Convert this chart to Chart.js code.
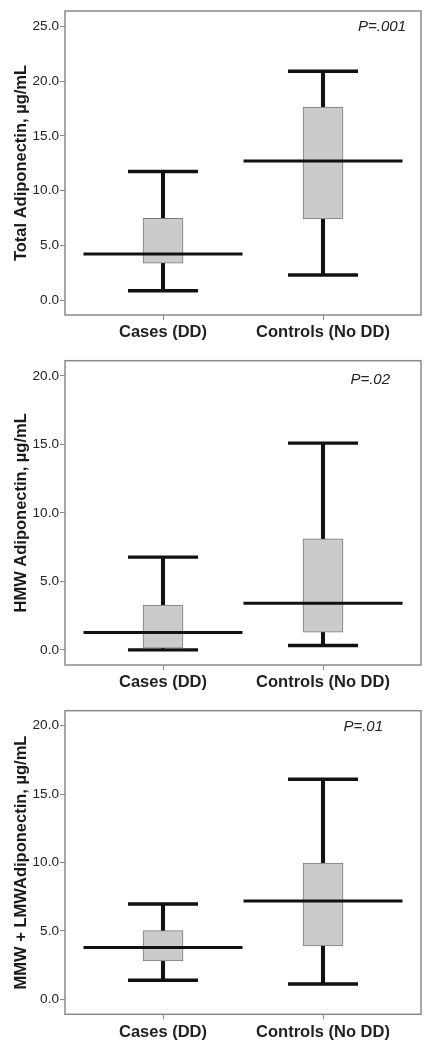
<!DOCTYPE html>
<html><head><meta charset="utf-8">
<script src="https://cdn.jsdelivr.net/npm/chart.js@4.4.0/dist/chart.umd.min.js"></script>
<style>
html,body{margin:0;padding:0;background:#fff;width:435px;height:1050px;overflow:hidden}
canvas{position:absolute;left:0;display:block}
</style></head><body>
<canvas id="c1" width="435" height="345" style="top:0px"></canvas>
<canvas id="c2" width="435" height="350" style="top:345px"></canvas>
<canvas id="c3" width="435" height="355" style="top:695px"></canvas>
<script>
// ---- data ----
const GROUPS = ['Cases (DD)', 'Controls (No DD)'];

const TOTAL_MIN = [0.85, 2.29];
const TOTAL_Q1  = [3.36, 7.41];
const TOTAL_Q3  = [7.47, 17.63];
const TOTAL_MAX = [11.74, 20.90];
const TOTAL_MID = [4.21, 12.69];
const TOTAL_TICKS = [0, 5, 10, 15, 20, 25];

const HMW_MIN = [0.00, 0.32];
const HMW_Q1  = [0.12, 1.29];
const HMW_Q3  = [3.28, 8.10];
const HMW_MAX = [6.77, 15.09];
const HMW_MID = [1.27, 3.40];
const HMW_TICKS = [0, 5, 10, 15, 20];

const MLMW_MIN = [1.39, 1.12];
const MLMW_Q1  = [2.80, 3.90];
const MLMW_Q3  = [5.02, 9.95];
const MLMW_MAX = [6.97, 16.09];
const MLMW_MID = [3.78, 7.19];
const MLMW_TICKS = [0, 5, 10, 15, 20];

const P_LABELS = ['P=.001', 'P=.02', 'P=.01'];
const Y_TITLES = ['Total Adiponectin, \u00b5g/mL', 'HMW Adiponectin, \u00b5g/mL', 'MMW + LMWAdiponectin, \u00b5g/mL'];

// ---- rendering ----
Chart.defaults.font.family = "'Liberation Sans', Arial, sans-serif";
Chart.defaults.color = '#333';

const frame = {
  id: 'frame',
  afterDraw(chart) {
    const a = chart.chartArea, ctx = chart.ctx;
    ctx.save();
    ctx.strokeStyle = '#8a8a8a';
    ctx.lineWidth = 1.5;
    ctx.strokeRect(a.left, a.top, a.right - a.left, a.bottom - a.top);
    const p = chart.options.plugins.pval;
    if (p) {
      ctx.font = "italic 15px 'Liberation Sans', Arial, sans-serif";
      ctx.fillStyle = '#222';
      ctx.textAlign = 'right';
      ctx.textBaseline = 'middle';
      ctx.fillText(p.text, a.right - p.dx, a.top + p.dy);
    }
    ctx.restore();
  }
};

function makePanel(id, mn, q1, q3, mx, mid, ticks, yMin, yMax, title, pText, pdx, pdy, padTop, xH) {
  const idx = GROUPS.map((g, i) => i);
  const pts = arr => idx.map(i => ({x: i, y: arr[i]}));
  const rng = (a, b) => idx.map(i => ({x: i, y: [a[i], b[i]]}));
  new Chart(document.getElementById(id), {
    type: 'bar',
    data: {
      datasets: [
        {type: 'line', data: pts(mid), showLine: false, pointStyle: 'line', pointRadius: 79.5,
         pointBorderWidth: 3, pointBorderColor: '#111', pointBackgroundColor: '#111'},
        {type: 'bar', data: rng(q1, q3), grouped: false, barThickness: 40, borderSkipped: false,
         backgroundColor: '#cbcbcb', borderColor: '#7a7a7a', borderWidth: 1},
        {type: 'line', data: pts(mx), showLine: false, pointStyle: 'line', pointRadius: 35,
         pointBorderWidth: 3.4, pointBorderColor: '#111'},
        {type: 'line', data: pts(mn), showLine: false, pointStyle: 'line', pointRadius: 35,
         pointBorderWidth: 3.4, pointBorderColor: '#111'},
        {type: 'bar', data: rng(mn, mx), grouped: false, barThickness: 3.4, borderSkipped: false,
         backgroundColor: '#111', borderWidth: 0}
      ]
    },
    options: {
      responsive: false, animation: false, devicePixelRatio: 1, events: [],
      layout: {autoPadding: false, padding: {left: 0, right: 14, top: padTop, bottom: 0}},
      plugins: {legend: {display: false}, tooltip: {enabled: false},
        pval: {text: pText, dx: pdx, dy: pdy}},
      scales: {
        x: {
          type: 'linear', min: -0.6125, max: 1.6125, offset: false,
          afterBuildTicks: s => { s.ticks = idx.map(v => ({value: v})); },
          ticks: {callback: v => GROUPS[v], autoSkip: false, maxRotation: 0, padding: 3, color: '#222',
                  font: {size: 16.5, weight: 'bold'}},
          grid: {drawOnChartArea: false, drawTicks: true, tickLength: 5, color: '#8a8a8a', offset: false},
          border: {display: false},
          afterFit: s => { s.height = xH; s.paddingLeft = 0; s.paddingRight = 0; }
        },
        y: {
          type: 'linear', min: yMin, max: yMax,
          afterBuildTicks: s => { s.ticks = ticks.map(v => ({value: v})); },
          ticks: {callback: v => Number(v).toFixed(1), padding: 1, color: '#222', font: {size: 13.6}},
          grid: {drawOnChartArea: false, drawTicks: true, tickLength: 5, color: '#8a8a8a'},
          border: {display: false},
          title: {display: true, text: title, color: '#1a1a1a', font: {size: 16.5, weight: 'bold'},
                  padding: {top: 12, bottom: 0}},
          afterFit: s => { s.width = 65; s.paddingTop = 0; s.paddingBottom = 0; }
        }
      }
    },
    plugins: [frame]
  });
}

makePanel('c1', TOTAL_MIN, TOTAL_Q1, TOTAL_Q3, TOTAL_MAX, TOTAL_MID, TOTAL_TICKS, -1.37, 26.4,
          Y_TITLES[0], P_LABELS[0], 15, 15.7, 11, 30);
makePanel('c2', HMW_MIN, HMW_Q1, HMW_Q3, HMW_MAX, HMW_MID, HMW_TICKS, -1.1, 21.1,
          Y_TITLES[1], P_LABELS[1], 31, 19.3, 15.7, 30);
makePanel('c3', MLMW_MIN, MLMW_Q1, MLMW_Q3, MLMW_MAX, MLMW_MID, MLMW_TICKS, -1.1, 21.1,
          Y_TITLES[2], P_LABELS[2], 38, 16, 15.7, 35.7);
</script>
</body></html>
